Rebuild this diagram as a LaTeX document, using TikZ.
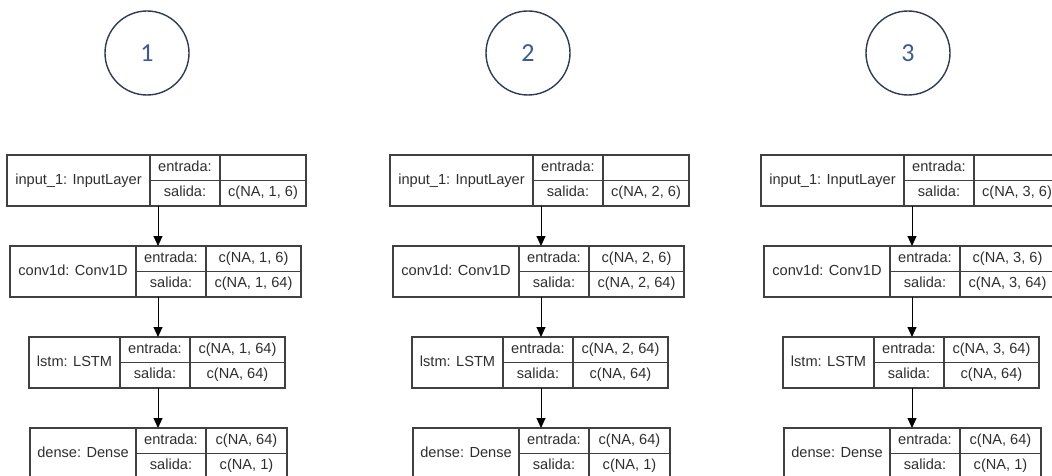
\documentclass[tikz,border=0pt]{standalone}
\usepackage{fontspec}
\setmainfont{Liberation Sans}
\newfontfamily\numfont{Carlito}
\usetikzlibrary{positioning,arrows.meta}
\definecolor{linea}{HTML}{404040}
\definecolor{texto}{HTML}{2E2E2E}
\definecolor{circulo}{HTML}{2E3A56}
\definecolor{azul}{HTML}{3B5A9A}

\begin{document}
\begin{tikzpicture}[x=1pt, y=-1pt,
    celda/.style={rectangle, draw=linea, line width=1.2pt, outer sep=0pt,
      inner sep=0pt, minimum height=25.5pt, text height=10pt, text depth=3pt,
      text=texto, font=\fontsize{14.6}{17}\selectfont},
    titulo/.style={celda, minimum height=51pt},
    etiqueta/.style={celda, minimum width=70pt},
    numero/.style={circle, draw=circulo, line width=1.4pt, minimum size=84pt,
      text=azul, font=\numfont\fontsize{26}{30}\selectfont},
    flecha/.style={-{Triangle[length=10pt,width=9pt]}, line width=1pt, draw=black}
    ]
\useasboundingbox (0,0) rectangle (1052,476);

\foreach \c/\x/\cx in {1/158/147, 2/541/528, 3/912/908}{
  \node[numero] (n\c) at (\cx,53) {\c};
  \coordinate (a\c) at (\x,0);
  % input
  \node[titulo, minimum width=143pt, anchor=north west] (in\c) at (\x-151,155) {input\_1: InputLayer};
  \node[etiqueta, anchor=north west] (ine\c) at (in\c.north east) {entrada:};
  \node[etiqueta, anchor=north west] (ins\c) at (ine\c.south west) {salida:};
  \node[celda, minimum width=86pt, anchor=north west] (inve\c) at (ine\c.north east) {};
  \node[celda, minimum width=86pt, anchor=north west] (invs\c) at (ins\c.north east) {c(NA, \c, 6)};
  % conv1d
  \node[titulo, minimum width=126pt, anchor=north west] (cv\c) at (\x-148,246) {conv1d: Conv1D};
  \node[etiqueta, anchor=north west] (cve\c) at (cv\c.north east) {entrada:};
  \node[etiqueta, anchor=north west] (cvs\c) at (cve\c.south west) {salida:};
  \node[celda, minimum width=95pt, anchor=north west] (cvve\c) at (cve\c.north east) {c(NA, \c, 6)};
  \node[celda, minimum width=95pt, anchor=north west] (cvvs\c) at (cvs\c.north east) {c(NA, \c, 64)};
  % lstm
  \node[titulo, minimum width=91pt, anchor=north west] (ls\c) at (\x-129,337) {lstm: LSTM};
  \node[etiqueta, anchor=north west] (lse\c) at (ls\c.north east) {entrada:};
  \node[etiqueta, anchor=north west] (lss\c) at (lse\c.south west) {salida:};
  \node[celda, minimum width=95pt, anchor=north west] (lsve\c) at (lse\c.north east) {c(NA, \c, 64)};
  \node[celda, minimum width=95pt, anchor=north west] (lsvs\c) at (lss\c.north east) {c(NA, 64)};
  % dense
  \node[titulo, minimum width=106pt, anchor=north west] (de\c) at (\x-128,428) {dense: Dense};
  \node[etiqueta, anchor=north west] (dee\c) at (de\c.north east) {entrada:};
  \node[etiqueta, anchor=north west] (des\c) at (dee\c.south west) {salida:};
  \node[celda, minimum width=81pt, anchor=north west] (deve\c) at (dee\c.north east) {c(NA, 64)};
  \node[celda, minimum width=81pt, anchor=north west] (devs\c) at (des\c.north east) {c(NA, 1)};
  \draw[flecha] (in\c.south -| a\c) -- (cv\c.north -| a\c);
  \draw[flecha] (cv\c.south -| a\c) -- (ls\c.north -| a\c);
  \draw[flecha] (ls\c.south -| a\c) -- (de\c.north -| a\c);
}
\end{tikzpicture}
\end{document}
